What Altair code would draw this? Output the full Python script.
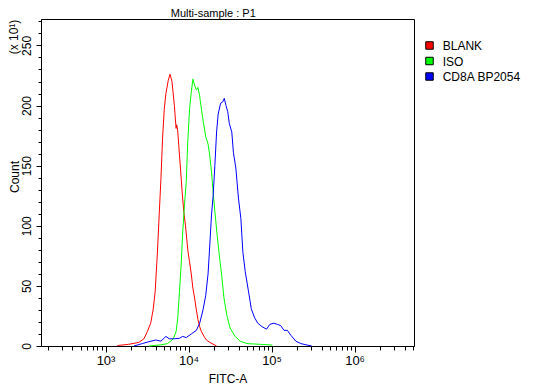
import altair as alt
import pandas as pd

# ---- data ----
names = ["BLANK", "ISO", "CD8A BP2054"]
colors = ["#ff0000", "#00ff00", "#0000ff"]

blank_x = [1370, 1440, 1900, 2520, 2900, 3190, 3500, 3740, 3960, 4220, 4430, 4650, 4860, 5100,
           5340, 5700, 5980, 6320, 6750, 7080, 7200, 7410, 7620, 7990, 8380, 8760, 9190, 9790,
           10280, 10790, 11280, 11830, 12420, 12980, 13620, 14290, 15670, 16440, 18030, 21770]
blank_y = [0, 0.5, 1.4, 3, 6, 12, 19, 30, 45, 78, 109, 139, 172, 197, 210, 221, 226, 220, 200,
           181, 184, 179, 167, 148, 128, 112, 100, 80, 70, 60, 48, 40, 30, 22, 16, 12, 7, 5, 3, 0]

iso_x = [3340, 4650, 5590, 6560, 7080, 7410, 7770, 8140, 8510, 8930, 9370, 9790, 10280, 10790,
         11280, 11830, 12420, 12980, 13620, 13900, 14940, 16110, 17180, 18030, 18910, 19780,
         20750, 22130, 23420, 25070, 26730, 28840, 31620, 36380, 41880, 50570, 73420, 102100]
iso_y = [0, 1, 2, 6, 12, 23, 45, 67, 95, 117, 136, 170, 197, 211, 222, 217, 213, 215, 208, 203,
         188, 174, 168, 158, 145, 128, 112, 92, 76, 59, 40, 26, 15, 8, 4, 2, 1.4, 0.8]

cd8_x = [2200, 2770, 3340, 4035, 4645, 5340, 5860, 6750, 7770, 8510, 9370, 10790, 12420, 13620,
         14940, 16110, 17180, 17680, 18910, 19780, 20750, 21770, 22760, 24370, 25780, 26940,
         28250, 29660, 30990, 33190, 34700, 37130, 39920, 42700, 45150, 48160, 52880, 56990,
         62040, 68100, 77080, 86950, 95340, 106700, 117400, 128800, 141300, 155300, 170500,
         196200, 225900, 260000, 304800]
cd8_y = [0, 2, 3.6, 5, 4, 8, 6, 6, 6.4, 8, 7, 10, 13, 19, 30, 42, 60, 74, 109, 125, 150, 178,
         193, 202, 203, 206, 200, 195, 185, 178, 161, 148, 123, 106, 78, 62, 45, 31, 24, 19, 16,
         14, 18, 19, 18, 17, 13, 13, 9, 4, 2, 1, 0]

x_major = [1000, 10000, 100000, 1000000]
x_major_labels = ["10³", "10⁴", "10⁵", "10⁶"]
x_minor = [200, 300, 400, 500, 600, 700, 800, 900,
           2000, 3000, 4000, 5000, 6000, 7000, 8000, 9000,
           20000, 30000, 40000, 50000, 60000, 70000, 80000, 90000,
           200000, 300000, 400000, 500000, 600000, 700000, 800000, 900000,
           2000000, 3000000, 4000000, 5000000]
y_major = [0, 50, 100, 150, 200, 250]
y_minor = [10, 20, 30, 40, 60, 70, 80, 90, 110, 120, 130, 140, 160, 170, 180, 190,
           210, 220, 230, 240, 260, 270]

title_text = "Multi-sample : P1"
x_title = "FITC-A"
y_title = "Count"
y_unit = "(x 10¹)"

# ---- build tables ----
rows = []
for nm, xs, ys in [(names[0], blank_x, blank_y), (names[1], iso_x, iso_y), (names[2], cd8_x, cd8_y)]:
    for xv, yv in zip(xs, ys):
        rows.append({"sample": nm, "fitc": xv, "count": yv})
df = pd.DataFrame(rows)
df_helper = pd.DataFrame({"fitc": [1000], "count": [0]})
df_leg = pd.DataFrame({"sample": names})

FONT = "Liberation Sans"
xscale = alt.Scale(type="log", domain=[167, 5.2e6], nice=False)
yscale = alt.Scale(domain=[0, 272], nice=False, zero=False)
cscale = alt.Scale(domain=names, range=colors)
leg_y = alt.Y("sample:N", scale=alt.Scale(domain=names, range=[26.5, 57.5], padding=0),
              axis=None)

label_expr = " : ".join(
    f"datum.value == {v} ? '{l}'" for v, l in zip(x_major, x_major_labels)
) + " : ''"

lines = alt.Chart(df).mark_line(strokeWidth=1).encode(
    x=alt.X("fitc:Q", scale=xscale,
            axis=alt.Axis(orient="bottom", values=x_major, labelExpr=label_expr, tickSize=6,
                          labelFontSize=13, labelPadding=2, labelFlush=False, grid=False,
                          title=x_title, titleFontSize=12, titleFontWeight="normal",
                          titleY=36, titleBaseline="alphabetic")),
    y=alt.Y("count:Q", scale=yscale,
            axis=alt.Axis(orient="left", values=y_major, tickSize=5, labelAngle=270,
                          labelAlign="center", labelBaseline="alphabetic", labelPadding=6,
                          labelFontSize=12, labelFlush=False, labelOverlap=False, grid=False,
                          title=y_title, titleFontSize=12, titleFontWeight="normal",
                          titleAngle=270, titleX=-23, titleY=157.5, titleAlign="center",
                          titleBaseline="alphabetic")),
    stroke=alt.Stroke("sample:N", scale=cscale, legend=None),
    detail="sample:N",
)

# invisible helper carrying the minor-tick axes
helper = alt.Chart(df_helper).mark_point(opacity=0).encode(
    x=alt.X("fitc:Q", scale=xscale,
            axis=alt.Axis(orient="bottom", values=x_minor, labels=False, domain=False,
                          tickSize=4, grid=False, title=None)),
    y=alt.Y("count:Q", scale=yscale,
            axis=alt.Axis(orient="left", values=y_minor, labels=False, domain=False,
                          tickSize=3, grid=False, title=None)),
)

# legend drawn from the names list
leg_sq = alt.Chart(df_leg).mark_square(size=56, stroke="black", strokeWidth=1, opacity=1).encode(
    x=alt.value(388.5), y=leg_y,
    fill=alt.Fill("sample:N", scale=cscale, legend=None),
)
leg_tx = alt.Chart(df_leg).mark_text(align="left", baseline="middle", fontSize=12, font=FONT,
                                     color="black", dy=0.5).encode(
    x=alt.value(401.7), y=leg_y, text="sample:N",
)

unit = alt.Chart(pd.DataFrame({"t": [y_unit]})).mark_text(
    angle=270, align="center", baseline="alphabetic", fontSize=12, font=FONT, color="black"
).encode(x=alt.value(-23), y=alt.value(18), text="t:N")

title = alt.Chart(pd.DataFrame({"t": [title_text]})).mark_text(
    align="center", baseline="alphabetic", fontSize=11, font=FONT, color="black"
).encode(x=alt.value(172.3), y=alt.value(-2), text="t:N")

chart = alt.layer(lines, helper, leg_sq, leg_tx, unit, title).resolve_axis(
    x="independent", y="independent"
).resolve_scale(y="independent").properties(
    width=373,
    height=327,
    autosize=alt.AutoSizeParams(type="none"),
    padding={"left": 33, "top": 11, "right": 130, "bottom": 38},
).configure(font=FONT, background="white").configure_view(
    stroke="black", strokeWidth=1
).configure_axis(
    labelFont=FONT, titleFont=FONT, tickColor="black", domainColor="black",
    labelColor="black", titleColor="black"
)

chart.save("out.html", embed_options={"renderer": "svg", "actions": False})
